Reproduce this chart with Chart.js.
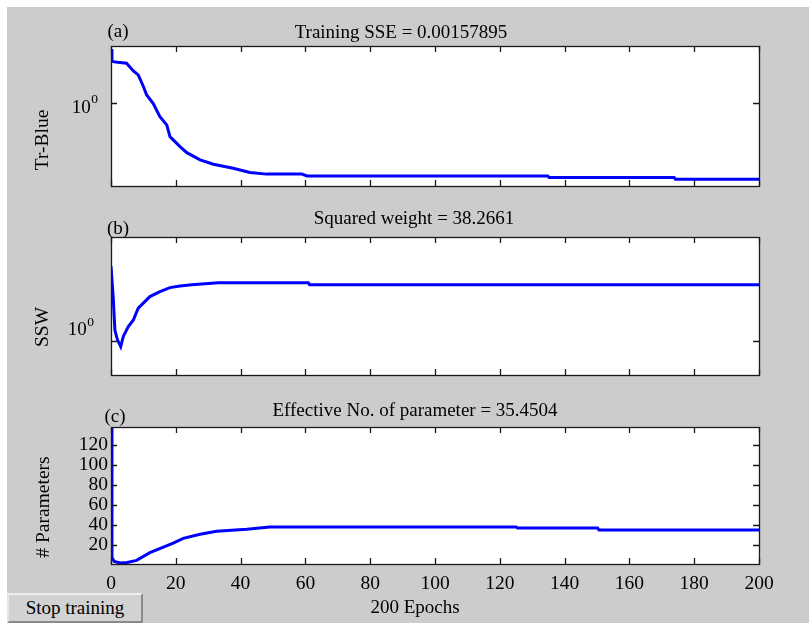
<!DOCTYPE html>
<html>
<head>
<meta charset="utf-8">
<script src="https://cdn.jsdelivr.net/npm/chart.js@4.4.1/dist/chart.umd.min.js"></script>
<style>
  html, body { margin: 0; padding: 0; background: #ffffff; }
  body { width: 809px; height: 625px; position: relative; overflow: hidden; font-family: "Liberation Serif", "Times New Roman", serif; }
  #bg { position: absolute; left: 7px; top: 7px; width: 802px; height: 616px; background: #cccccc; }
  canvas { position: absolute; left: 0; }
  .t { position: absolute; font-size: 19px; color: #000; white-space: nowrap; transform: translate(-50%, -50%); }
  .yl { position: absolute; font-size: 19.5px; color: #000; white-space: nowrap; transform: translate(-50%, -50%) rotate(-90deg); }
  #btn { position: absolute; left: 7px; top: 593px; width: 132px; height: 26px; background: #d2d2d2;
         border-top: 2px solid #eeeeee; border-left: 2px solid #e6e6e6; border-right: 2px solid #8a8a8a; border-bottom: 2px solid #8a8a8a;
         font-size: 19px; line-height: 26px; text-align: center; color: #000; }
</style>
</head>
<body>
<div id="bg"></div>
<canvas id="cA" width="809" height="200" style="top:0px"></canvas>
<canvas id="cB" width="809" height="190" style="top:200px"></canvas>
<canvas id="cC" width="809" height="225" style="top:400px"></canvas>

<div class="t" style="left:118px; top:31px;">(a)</div>
<div class="t" style="left:401px; top:32px;">Training SSE = 0.00157895</div>
<div class="t" style="left:118px; top:228px;">(b)</div>
<div class="t" style="left:414px; top:218px;">Squared weight = 38.2661</div>
<div class="t" style="left:115px; top:416px;">(c)</div>
<div class="t" style="left:415px; top:410px;">Effective No. of parameter = 35.4504</div>
<div class="yl" style="left:42px; top:140px;">Tr-Blue</div>
<div class="yl" style="left:42px; top:327px;">SSW</div>
<div class="yl" style="left:43px; top:507px;"># Parameters</div>
<div class="t" style="left:415px; top:607px;">200 Epochs</div>
<div id="btn">Stop training</div>

<script>
// ---------- data ----------
const xTicks = [0, 20, 40, 60, 80, 100, 120, 140, 160, 180, 200];

const sseEpochs = [0, 0.3, 0.7, 2, 4.8, 6.9, 8.4, 10, 11, 13, 15.1, 17.2, 18.2, 21.3, 23.4, 27.5, 31.6, 37.7, 42.9, 48, 58.9, 60.5, 134.8, 135.2, 173.8, 174.2, 200];
const sseValues = [2.42, 2.0, 1.97, 1.95, 1.92, 1.69, 1.585, 1.31, 1.14, 0.995, 0.798, 0.697, 0.574, 0.487, 0.441, 0.392, 0.365, 0.341, 0.318, 0.31, 0.31, 0.301, 0.301, 0.293, 0.293, 0.285, 0.285];

const sswEpochs = [0, 0.7, 1.2, 2, 3, 3.8, 5.3, 6.9, 8.4, 12, 15.1, 18.2, 21.3, 24.9, 33.1, 60.9, 61.3, 200];
const sswValues = [3.5, 2.04, 1.2, 1.02, 0.91, 1.08, 1.27, 1.42, 1.73, 2.10, 2.28, 2.44, 2.51, 2.56, 2.65, 2.65, 2.56, 2.56];

const paramEpochs = [0, 0.3, 1, 2.8, 5, 7.9, 12, 19.2, 22.3, 27.5, 32.6, 41.9, 49, 125, 125.5, 150.2, 150.6, 200];
const paramValues = [138, 8, 4, 2.4, 3, 5, 12.7, 22.3, 27, 31, 34, 36, 38.3, 38.3, 37.3, 37.3, 35.3, 35.3];
const paramTicks = [20, 40, 60, 80, 100, 120];
const logTicks = [1];

// ---------- helpers ----------
const FONT = { family: "'Liberation Serif', 'Times New Roman', serif", size: 19.5 };

function pts(xs, ys) { return xs.map((x, i) => ({ x: x, y: ys[i] })); }

const framePlugin = {
  id: 'matlabFrame',
  beforeDraw(chart) {
    const { ctx, chartArea: a } = chart;
    ctx.save();
    ctx.fillStyle = '#ffffff';
    ctx.fillRect(a.left, a.top, a.right - a.left, a.bottom - a.top);
    ctx.restore();
  },
  afterDatasetsDraw(chart, args, opts) {
    const { ctx, chartArea: a, scales } = chart;
    const x = scales.x, y = scales.y;
    const L = 6;
    ctx.save();
    ctx.strokeStyle = '#1a1a1a';
    ctx.lineWidth = 1.3;
    ctx.beginPath();
    x.ticks.forEach(t => {
      const px = Math.round(x.getPixelForValue(t.value)) + 0.5;
      ctx.moveTo(px, a.top); ctx.lineTo(px, a.top + L);
      ctx.moveTo(px, a.bottom); ctx.lineTo(px, a.bottom - L);
    });
    y.ticks.forEach(t => {
      const py = Math.round(y.getPixelForValue(t.value)) + 0.5;
      ctx.moveTo(a.left, py); ctx.lineTo(a.left + L, py);
      ctx.moveTo(a.right, py); ctx.lineTo(a.right - L, py);
    });
    ctx.stroke();
    ctx.strokeRect(Math.round(a.left) + 0.5, Math.round(a.top) + 0.5, Math.round(a.right - a.left), Math.round(a.bottom - a.top));
    if (opts && opts.logLabel) {
      y.ticks.forEach(t => {
        const py = y.getPixelForValue(t.value) + opts.labelOffset;
        ctx.fillStyle = '#000';
        ctx.textBaseline = 'middle';
        ctx.textAlign = 'right';
        ctx.font = "13.5px 'Liberation Serif', serif";
        ctx.fillText('0', opts.labelRight, py - 8);
        const w0 = ctx.measureText('0').width;
        ctx.font = "19px 'Liberation Serif', serif";
        ctx.fillText('10', opts.labelRight - w0 - 0.5, py);
      });
    }
    ctx.restore();
  }
};

function xScale(showLabels, height, pad) {
  return {
    type: 'linear', min: 0, max: 200,
    grid: { display: false, drawTicks: false },
    border: { display: false },
    ticks: { display: showLabels, font: FONT, color: '#000', padding: pad, maxRotation: 0, autoSkip: false },
    afterBuildTicks: s => { s.ticks = xTicks.map(v => ({ value: v })); },
    afterFit: s => { s.height = height; }
  };
}

function makeChart(id, data, yScale, padTop, xHeight, showX, padBottom, frameOpts) {
  return new Chart(document.getElementById(id), {
    type: 'line',
    data: { datasets: [{ data: data, borderColor: '#0000ff', borderWidth: 3, pointRadius: 0, tension: 0, fill: false }] },
    options: {
      responsive: false, animation: false,
      parsing: true,
      layout: { padding: { top: padTop, right: 50, left: 0, bottom: padBottom } },
      plugins: { legend: { display: false }, tooltip: { enabled: false }, matlabFrame: frameOpts },
      scales: { x: xScale(showX, xHeight, 8), y: yScale }
    },
    plugins: [framePlugin]
  });
}

function logY(min, max) {
  return {
    type: 'logarithmic', min: min, max: max,
    grid: { display: false, drawTicks: false },
    border: { display: false },
    ticks: { display: false },
    afterBuildTicks: s => { s.ticks = logTicks.map(v => ({ value: v })); },
    afterFit: s => { s.width = 111; }
  };
}

makeChart('cA', pts(sseEpochs, sseValues), logY(0.255, 2.55), 46, 14, false, 0,
  { logLabel: true, labelOffset: 5, labelRight: 98 });

makeChart('cB', pts(sswEpochs, sswValues), logY(0.567, 5.68), 37, 15, false, 0,
  { logLabel: true, labelOffset: -11, labelRight: 94 });

makeChart('cC', pts(paramEpochs, paramValues), {
  type: 'linear', min: 1.4, max: 138,
  grid: { display: false, drawTicks: false },
  border: { display: false },
  ticks: { font: FONT, color: '#000', padding: 3 },
  afterBuildTicks: s => { s.ticks = paramTicks.map(v => ({ value: v })); },
  afterFit: s => { s.width = 111; }
}, 27, 36, true, 25, { logLabel: false });
</script>
</body>
</html>
